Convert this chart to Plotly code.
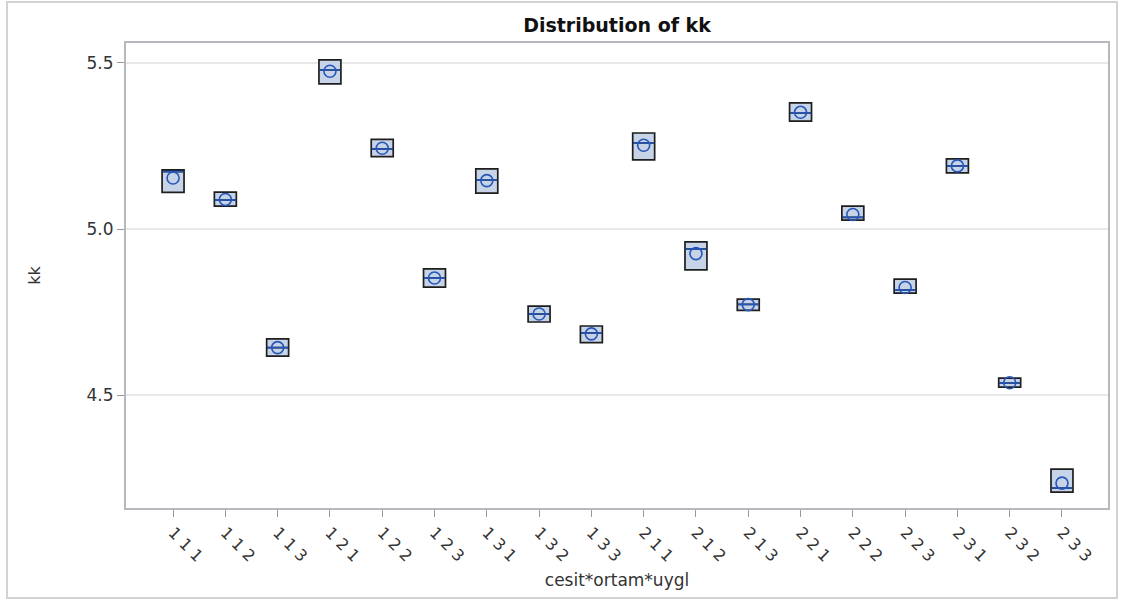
import plotly.graph_objects as go

# Treatment combinations (cesit * ortam * uygl)
groups = ["1 1 1", "1 1 2", "1 1 3", "1 2 1", "1 2 2", "1 2 3",
          "1 3 1", "1 3 2", "1 3 3", "2 1 1", "2 1 2", "2 1 3",
          "2 2 1", "2 2 2", "2 2 3", "2 3 1", "2 3 2", "2 3 3"]

# Three replicate observations of kk per group (sorted low / mid / high)
obs_low = [5.110, 5.069, 4.617, 5.437, 5.218, 4.825, 5.108, 4.720, 4.658,
           5.208, 4.877, 4.755, 5.325, 5.027, 4.807, 5.169, 4.524, 4.208]
obs_mid = [5.173, 5.087, 4.643, 5.479, 5.241, 4.852, 5.148, 4.744, 4.687,
           5.259, 4.940, 4.773, 5.349, 5.035, 4.816, 5.190, 4.536, 4.220]
obs_high = [5.178, 5.111, 4.669, 5.509, 5.270, 4.880, 5.181, 4.768, 4.708,
            5.289, 4.961, 4.789, 5.380, 5.069, 4.849, 5.211, 4.551, 4.277]

y_ticks = [4.5, 5.0, 5.5]

# Long form for the box trace
xs, ys = [], []
for g, a, b, c in zip(groups, obs_low, obs_mid, obs_high):
    xs += [g, g, g]
    ys += [a, b, c]

medians = obs_mid
means = [(a + b + c) / 3 for a, b, c in zip(obs_low, obs_mid, obs_high)]

FONT = "DejaVu Sans, Liberation Sans, Arial, sans-serif"
BLUE = "#2657b8"

fig = go.Figure()

fig.add_trace(go.Box(
    x=xs, y=ys,
    quartilemethod="exclusive",
    boxpoints=False,
    width=0.42,
    fillcolor="#c7d4e8",
    line=dict(color="#1e1e1e", width=1.7),
    showlegend=False,
    hoverinfo="skip",
))

# Median bars
fig.add_trace(go.Scatter(
    x=groups, y=medians, mode="markers",
    marker=dict(symbol="line-ew", size=15,
                line=dict(color=BLUE, width=1.6)),
    showlegend=False, hoverinfo="skip",
))

# Mean markers
fig.add_trace(go.Scatter(
    x=groups, y=means, mode="markers",
    marker=dict(symbol="circle-open", size=12,
                line=dict(color=BLUE, width=1.6), color=BLUE),
    showlegend=False, hoverinfo="skip",
))

fig.update_layout(
    width=1124, height=601,
    margin=dict(l=126, r=16, t=43, b=93),
    paper_bgcolor="white",
    plot_bgcolor="white",
    font=dict(family=FONT, color="#222"),
    title=dict(text="<b>Distribution of kk</b>", x=(126 + 1108) / 2 / 1124,
               xanchor="center", y=1 - 25 / 601, yanchor="middle",
               font=dict(size=19, color="#111", family=FONT)),
    xaxis=dict(
        type="category",
        categoryorder="array", categoryarray=groups,
        range=[-0.9, 17.88],
        tickangle=45,
        ticks="outside", ticklen=7, tickcolor="#9a9a9a",
        tickfont=dict(size=16, color="#333"),
        showline=True, linecolor="#b5b9bd", linewidth=2, mirror=True,
        showgrid=False, zeroline=False,
        title=dict(text="cesit*ortam*uygl", font=dict(size=17, color="#333"),
                   standoff=10),
    ),
    yaxis=dict(
        range=[4.16, 5.56],
        tickvals=y_ticks, tickformat=".1f",
        ticks="outside", ticklen=7, tickcolor="#9a9a9a",
        tickfont=dict(size=17, color="#333"),
        showline=True, linecolor="#b5b9bd", linewidth=2, mirror=True,
        showgrid=True, gridcolor="#e8e8e8", gridwidth=1.5,
        zeroline=False,
        title=dict(text="kk", font=dict(size=16, color="#333"), standoff=42),
    ),
    shapes=[dict(
        type="rect", xref="paper", yref="paper",
        x0=(7 - 126) / 982, x1=(1117 - 126) / 982,
        y0=(508 - 598) / 465, y1=(508 - 2) / 465,
        line=dict(color="#d2d2d2", width=2), fillcolor="rgba(0,0,0,0)",
        layer="below",
    )],
)

fig.write_html("out.html")
